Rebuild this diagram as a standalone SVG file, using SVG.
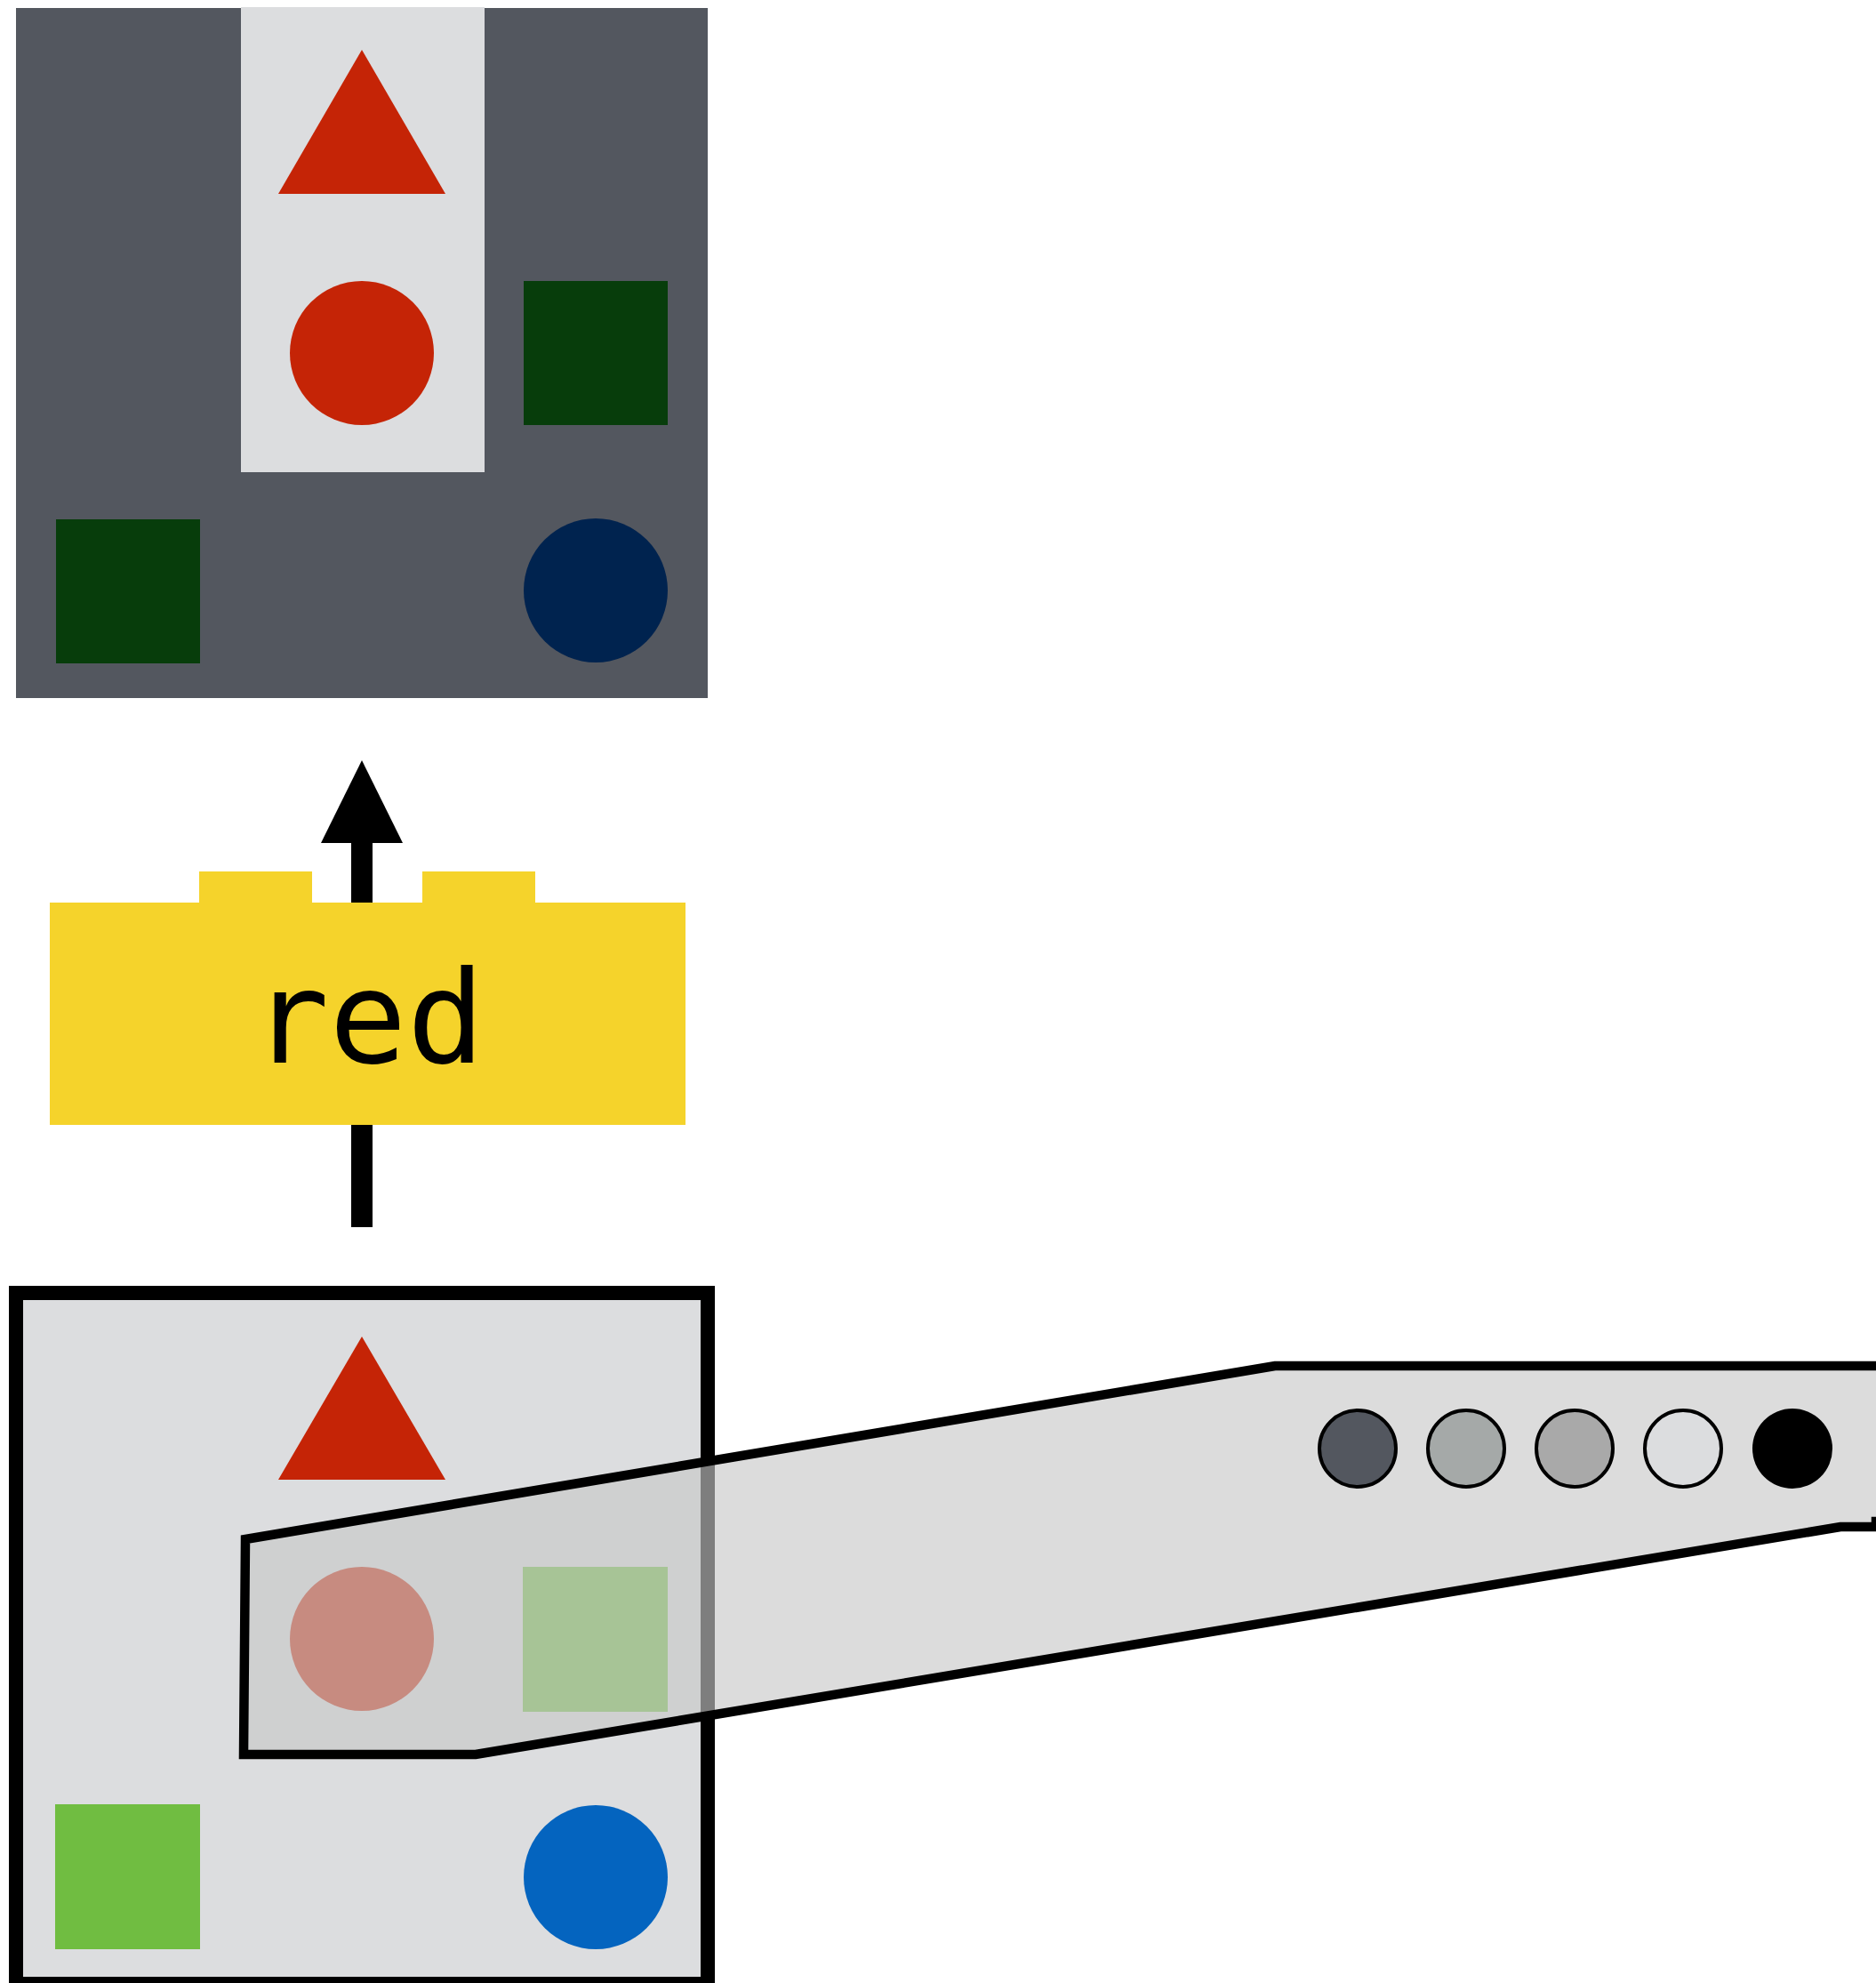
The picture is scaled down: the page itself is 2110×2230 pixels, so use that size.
<svg xmlns="http://www.w3.org/2000/svg" width="2110" height="2230" viewBox="0 0 2110 2230">
<style>
.red{fill:#c52406}
.dkgreen{fill:#073d0b}
.navy{fill:#00234f}
.ltgreen{fill:#70bd41}
.blue{fill:#0464bf}
.panel{fill:#dcdddf}
.label{font-family:"DejaVu Sans Mono","Liberation Mono",monospace;font-size:145px;fill:#000}
.dot{stroke:#000;stroke-width:4}
</style>
<rect width="2110" height="2230" fill="#fff"/>
<g id="top-panel">
  <rect x="18" y="9" width="778" height="776" fill="#53575f"/>
  <rect x="271" y="8" width="274" height="523" class="panel"/>
  <polygon points="407,56 313,218 501,218" class="red"/>
  <circle cx="407" cy="397" r="81" class="red"/>
  <rect x="589" y="316" width="162" height="162" class="dkgreen"/>
  <rect x="63" y="584" width="162" height="162" class="dkgreen"/>
  <circle cx="670" cy="664" r="81" class="navy"/>
</g>
<g id="connectors">
  <rect x="395" y="946" width="24" height="434" fill="#000"/>
  <polygon points="407,855 361,948 453,948" fill="#000"/>
</g>
<g id="filter-red">
  <path d="M56,1015 H224 V980 H351 V1015 H475 V980 H602 V1015 H771 V1265 H56 Z" fill="#f5d32b"/>
  <text x="414" y="1195" text-anchor="middle" class="label">red</text>
</g>
<g id="bottom-panel">
  <rect x="18" y="1454" width="778" height="777" class="panel" stroke="#000" stroke-width="16"/>
  <polygon points="407,1503 313,1664 501,1664" class="red"/>
  <circle cx="407" cy="1843" r="81" class="red"/>
  <rect x="588" y="1762" width="163" height="163" class="ltgreen"/>
  <rect x="62" y="2029" width="163" height="163" class="ltgreen"/>
  <circle cx="670" cy="2111" r="81" class="blue"/>
</g>
<g id="callout">
  <polygon points="276,1731 274,1973 535,1973 2070,1717 2110,1717 2110,1711 2200,1711 2200,1536 1434,1536" fill="#c8c8c8" fill-opacity="0.63" stroke="#000" stroke-width="10.5"/>
  <circle cx="1527" cy="1629" r="43" fill="#53575f" class="dot"/>
  <circle cx="1649" cy="1629" r="43" fill="#a5a9a8" class="dot"/>
  <circle cx="1771" cy="1629" r="43" fill="#a9a9a9" class="dot"/>
  <circle cx="1893" cy="1629" r="43" fill="#dcdddf" class="dot"/>
  <circle cx="2016" cy="1629" r="45" fill="#000"/>
</g>
</svg>
